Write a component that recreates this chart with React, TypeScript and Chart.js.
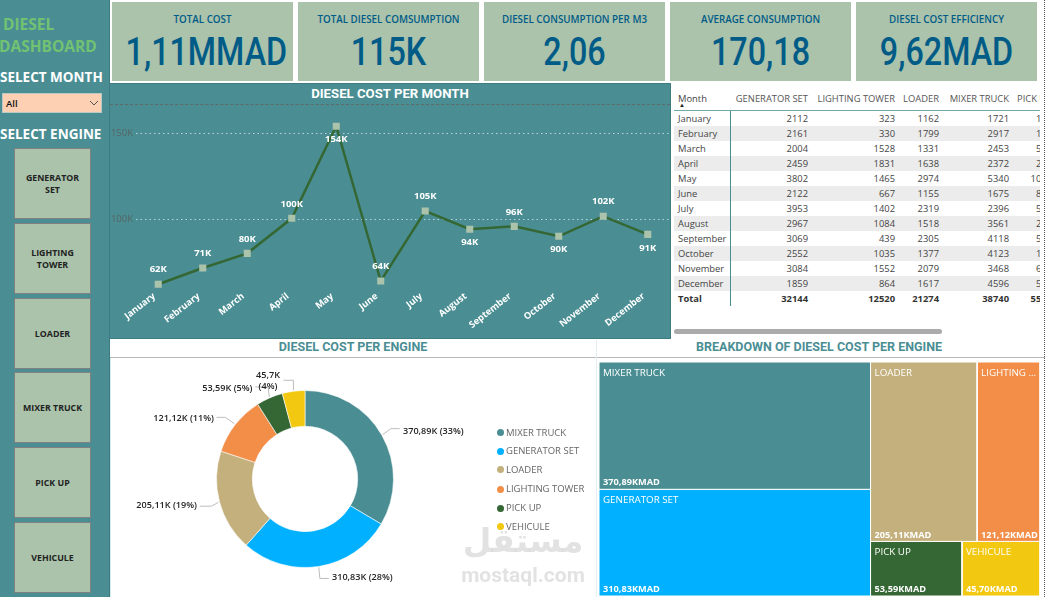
import React, { useEffect, useRef } from "react";
import { Chart, registerables } from "chart.js";

Chart.register(...registerables);

// ---------- data ----------
const months = ["January","February","March","April","May","June","July","August","September","October","November","December"];
const monthlyCost = [61800,71300,79900,100400,154300,63700,104700,94000,95700,89900,101600,91000];
const monthlyLabels = ["62K","71K","80K","100K","154K","64K","105K","94K","96K","90K","102K","91K"];
const labelsBelow = ["May","August","October","December"];

const engines = ["MIXER TRUCK","GENERATOR SET","LOADER","LIGHTING TOWER","PICK UP","VEHICULE"];
const engineCostK = [370.89,310.83,205.11,121.12,53.59,45.7];
const engineColors = ["#4A8E94","#01B0FF","#C3B07C","#F28E48","#346733","#F2C811"];

const kpiTitles = ["TOTAL COST","TOTAL DIESEL COMSUMPTION","DIESEL CONSUMPTION PER M3","AVERAGE CONSUMPTION","DIESEL COST EFFICIENCY"];
const kpiValues = ["1,11MMAD","115K","2,06","170,18","9,62MAD"];

const tableHeaders = ["GENERATOR SET","LIGHTING TOWER","LOADER","MIXER TRUCK","PICK UP"];
const generatorSet = [2112,2161,2004,2459,3802,2122,3953,2967,3069,2552,3084,1859];
const lightingTower = [323,330,1528,1831,1465,667,1402,1084,439,1035,1552,864];
const loader = [1162,1799,1331,1638,2974,1155,2319,1518,2305,1377,2079,1617];
const mixerTruck = [1721,2917,2453,2372,5340,1675,2396,3561,4118,4123,3468,4596];
const pickUp = [138,126,512,287,1043,845,506,274,509,113,611,555];
const tableTotals = [32144,12520,21274,38740,5519];
const buttons = [["GENERATOR","SET"],["LIGHTING","TOWER"],["LOADER"],["MIXER TRUCK"],["PICK UP"],["VEHICULE"]];

// ---------- styling constants ----------
const TEAL = "#4A8E94";
const SAGE = "#ABC2AB";
const BLUE = "#005C87";
const BODY = "'Open Sans', sans-serif";
const HEAD = "Roboto, sans-serif";

const kpiBoxes = [[112,181],[298,181],[484,181],[670,181],[856,181]];
const columnRight = [134,221,265,335,378];
const buttonTops = [148,223,298,372,447,522];
const legendY = [432.5,451,469.5,489,508,526.5];
const callouts = [
  { ex: 8, ey: -6, fx: 17, fy: -6, tx: 403, ty: 431, align: "left" },
  { ex: 1, ey: 11, fx: 10, fy: 11, tx: 332, ty: 577, align: "left" },
  { ex: -7, ey: 4, fx: -19, fy: 4, tx: 197, ty: 505.7, align: "right" },
  { ex: -9, ey: -6.5, fx: -18, fy: -6.5, tx: 214, ty: 418.7, align: "right" },
  { ex: -1, ey: -10, fx: -14, fy: -10, tx: 252.5, ty: 388.7, align: "right" },
  { ex: 0, ey: -10, fx: -10, fy: -10, tx: 268, ty: 375, align: "center" },
];

const commaNum = (v: number, d: number) => v.toFixed(d).replace(".", ",");
const totalCost = engineCostK.reduce((a, b) => a + b, 0);
const donutLabel = (i: number) => {
  const v = engineCostK[i];
  const txt = Number.isInteger(Math.round(v * 100) / 10) ? commaNum(v, 1) : commaNum(v, 2);
  return [`${txt}K`, `(${Math.round((v / totalCost) * 100)}%)`];
};

// treemap slice-and-dice derived from the values only
function treemapRects() {
  const [m, g, l, t, p, v] = engineCostK;
  const left = (m + g) / totalCost;
  const top = (l + t) / (l + t + p + v);
  return [
    { x0: 0, x1: left, y0: 0, y1: m / (m + g) },
    { x0: 0, x1: left, y0: m / (m + g), y1: 1 },
    { x0: left, x1: left + (1 - left) * (l / (l + t)), y0: 0, y1: top },
    { x0: left + (1 - left) * (l / (l + t)), x1: 1, y0: 0, y1: top },
    { x0: left, x1: left + (1 - left) * (p / (p + v)), y0: top, y1: 1 },
    { x0: left + (1 - left) * (p / (p + v)), x1: 1, y0: top, y1: 1 },
  ];
}
const treemapNames = ["MIXER TRUCK","GENERATOR SET","LOADER","LIGHTING ...","PICK UP","VEHICULE"];

const abs = (left: number, top: number, width?: number, height?: number): React.CSSProperties => ({
  position: "absolute", left, top, width, height,
});

export default function App() {
  const lineRef = useRef<HTMLCanvasElement>(null);
  const donutRef = useRef<HTMLCanvasElement>(null);
  const treeRef = useRef<HTMLCanvasElement>(null);

  useEffect(() => {
    const lineLabels = {
      id: "lineLabels",
      afterDatasetsDraw(chart: any) {
        const ctx = chart.ctx;
        const meta = chart.getDatasetMeta(0);
        ctx.save();
        ctx.font = `700 9.5px ${BODY}`;
        ctx.fillStyle = "#fff";
        ctx.textAlign = "center";
        ctx.textBaseline = "middle";
        meta.data.forEach((pt: any, i: number) => {
          const below = labelsBelow.includes(months[i]);
          ctx.fillText(monthlyLabels[i], pt.x, pt.y + (below ? 13.5 : -14.5));
        });
        ctx.restore();
      },
    };
    const line = new Chart(lineRef.current!, {
      type: "line",
      data: {
        labels: months,
        datasets: [{
          data: monthlyCost,
          borderColor: "#346733",
          borderWidth: 2.5,
          pointStyle: "rect",
          pointRadius: 5,
          pointBackgroundColor: SAGE,
          pointBorderWidth: 0,
          tension: 0,
        }],
      },
      options: {
        animation: false,
        responsive: false,
        layout: { autoPadding: false, padding: { top: 3, left: 0, right: 0, bottom: 0 } },
        plugins: { legend: { display: false }, tooltip: { enabled: false } },
        scales: {
          x: {
            offset: true,
            border: { display: false },
            grid: { display: false, drawTicks: false },
            afterFit: (s: any) => { s.height = 47.25; s.paddingLeft = 0; s.paddingRight = 0; },
            ticks: {
              autoSkip: false, maxRotation: 38, minRotation: 38, padding: 0, labelOffset: -4,
              color: "#fff", font: { family: "Open Sans", size: 9.3, weight: "700" },
            },
          },
          y: {
            min: 58000,
            max: 165000,
            border: { display: false, dash: [1.5, 3] },
            grid: { color: "rgba(225,235,235,0.75)", lineWidth: 1, drawTicks: false },
            afterBuildTicks: (s: any) => { s.ticks = [{ value: 100000 }, { value: 150000 }]; },
            afterFit: (s: any) => { s.width = 26; s.paddingTop = 0; s.paddingBottom = 0; },
            ticks: {
              padding: 3,
              color: "#566566",
              font: { family: "Open Sans", size: 9.5 },
              callback: (v: any) => `${Number(v) / 1000}K`,
            },
          },
        },
      },
      plugins: [lineLabels],
    } as any);

    const donutCallouts = {
      id: "donutCallouts",
      afterDraw(chart: any) {
        const ctx = chart.ctx;
        const meta = chart.getDatasetMeta(0);
        const rect = chart.canvas.getBoundingClientRect();
        ctx.save();
        meta.data.forEach((arc: any, i: number) => {
          const mid = (arc.startAngle + arc.endAngle) / 2;
          const ax = arc.x + Math.cos(mid) * (arc.outerRadius + 1);
          const ay = arc.y + Math.sin(mid) * (arc.outerRadius + 1);
          const c = callouts[i];
          ctx.strokeStyle = "#BDBDBD";
          ctx.lineWidth = 1;
          ctx.beginPath();
          ctx.moveTo(ax, ay);
          ctx.lineTo(ax + c.ex, ay + c.ey);
          ctx.lineTo(ax + c.fx, ay + c.fy);
          ctx.stroke();
          ctx.fillStyle = "#252525";
          ctx.font = `600 9.1px ${BODY}`;
          ctx.textBaseline = "middle";
          ctx.textAlign = c.align;
          const [a, b] = donutLabel(i);
          const tx = c.tx - rect.left;
          const ty = c.ty - rect.top;
          if (c.align === "center") {
            ctx.fillText(a, tx, ty);
            ctx.fillText(b, tx, ty + 11.7);
          } else {
            ctx.fillText(`${a} ${b}`, tx, ty);
          }
        });
        ctx.restore();
      },
    };
    const donut = new Chart(donutRef.current!, {
      type: "doughnut",
      data: {
        labels: engines,
        datasets: [{
          data: engineCostK,
          backgroundColor: engineColors,
          borderColor: "#fff",
          borderWidth: 0.6,
        }],
      },
      options: {
        animation: false,
        responsive: false,
        radius: 88.5,
        cutout: "59.5%",
        plugins: { legend: { display: false }, tooltip: { enabled: false } },
      },
      plugins: [donutCallouts],
    } as any);

    const rects = treemapRects();
    const treeLabels = {
      id: "treeLabels",
      afterDatasetsDraw(chart: any) {
        const { ctx, scales } = chart;
        ctx.save();
        ctx.fillStyle = "#fff";
        ctx.textAlign = "left";
        ctx.textBaseline = "middle";
        rects.forEach((r, i) => {
          const px = scales.x.getPixelForValue(r.x0) + 4;
          ctx.font = `400 9.8px ${BODY}`;
          ctx.fillText(treemapNames[i], px, scales.y.getPixelForValue(r.y0) + 11);
          ctx.font = `700 9.2px ${BODY}`;
          ctx.fillText(`${commaNum(engineCostK[i], 2)}KMAD`, px, scales.y.getPixelForValue(r.y1) - 6.5);
        });
        ctx.restore();
      },
    };
    const tree = new Chart(treeRef.current!, {
      type: "scatter",
      data: {
        datasets: rects.map((r, i) => ({
          label: engines[i],
          showLine: true,
          fill: "shape",
          tension: 0,
          clip: false,
          pointRadius: 0,
          backgroundColor: engineColors[i],
          borderColor: "#fff",
          borderWidth: 1,
          data: [
            { x: r.x0, y: r.y0 }, { x: r.x1, y: r.y0 }, { x: r.x1, y: r.y1 }, { x: r.x0, y: r.y1 }, { x: r.x0, y: r.y0 },
          ],
        })),
      },
      options: {
        animation: false,
        responsive: false,
        plugins: { legend: { display: false }, tooltip: { enabled: false } },
        scales: {
          x: { display: false, min: 0, max: 1 },
          y: { display: false, min: 0, max: 1, reverse: true },
        },
      },
      plugins: [treeLabels],
    } as any);

    return () => { line.destroy(); donut.destroy(); tree.destroy(); };
  }, []);

  const tableCols = [generatorSet, lightingTower, loader, mixerTruck, pickUp];

  return (
    <div style={{ position: "fixed", left: 0, top: 0, width: 1045, height: 597, overflow: "hidden", background: "#fff", fontFamily: BODY }}>
      {/* sidebar */}
      <div style={{ ...abs(0, 0, 109, 597), background: TEAL, borderRight: "1px solid #3F7C82", boxSizing: "content-box" }} />
      <div style={{ ...abs(3, 13), color: "#72C272", font: `700 15.5px ${BODY}` }}>DIESEL</div>
      <div style={{ ...abs(-1, 35), color: "#72C272", font: `700 15.5px ${BODY}` }}>DASHBOARD</div>
      <div style={{ ...abs(0, 68), color: "#fff", font: `700 13.5px ${BODY}`, whiteSpace: "nowrap" }}>SELECT MONTH</div>
      <div style={{ ...abs(2, 93, 100, 20), background: "#FDD0B3", border: "1px solid #B9C9C4", boxSizing: "border-box" }}>
        <span style={{ ...abs(3, 3), font: `600 9.5px ${BODY}`, color: "#111" }}>All</span>
        <svg style={abs(86, 6)} width="10" height="7"><polyline points="1,1 5,5 9,1" fill="none" stroke="#555" strokeWidth="1" /></svg>
      </div>
      <div style={{ ...abs(0, 125), color: "#fff", font: `700 13.5px ${BODY}`, whiteSpace: "nowrap" }}>SELECT ENGINE</div>
      {buttons.map((b, i) => (
        <div key={i} style={{ ...abs(14, buttonTops[i], 77, 71), background: SAGE, border: "1px solid #808080", boxSizing: "border-box", display: "flex", flexDirection: "column", alignItems: "center", justifyContent: "center", color: "#222", font: `700 8.8px/12px ${BODY}` }}>
          {b.map((t, j) => <span key={j}>{t}</span>)}
        </div>
      ))}

      {/* KPI cards */}
      {kpiTitles.map((t, i) => (
        <div key={t} style={{ ...abs(kpiBoxes[i][0], 2, kpiBoxes[i][1], 79), background: SAGE }}>
          <div style={{ position: "absolute", left: 0, right: 0, top: 11, textAlign: "center", color: BLUE, font: `600 9.8px/14px ${BODY}`, whiteSpace: "nowrap" }}>{t}</div>
          <div style={{ position: "absolute", left: 0, right: 0, top: 28, textAlign: "center", color: BLUE, font: `500 38px/44px ${HEAD}`, transform: "scaleX(0.85)", whiteSpace: "nowrap" }}>{kpiValues[i]}</div>
        </div>
      ))}

      {/* line panel */}
      <div style={{ ...abs(110, 84, 560, 254), background: TEAL, outline: "1px solid #3F7C82" }} />
      <div style={{ ...abs(110, 86, 560), textAlign: "center", color: "#fff", font: `700 13.2px/16px ${HEAD}` }}>DIESEL COST PER MONTH</div>
      <div style={{ ...abs(110, 104, 560), borderTop: "1px dashed #5E6A66" }} />
      <canvas ref={lineRef} width={560} height={233} style={{ ...abs(110, 105, 560, 233), display: "block" }} />

      {/* table */}
      <div style={{ ...abs(674, 85, 366, 222), overflow: "hidden", color: "#444", font: `400 9.4px/15px ${BODY}` }}>
        <div style={{ ...abs(4, 6), color: "#444" }}>Month</div>
        <div style={{ ...abs(5, 17), font: `400 6px/6px ${BODY}`, color: "#222" }}>▲</div>
        {tableHeaders.map((h, i) => (
          <div key={h} style={{ position: "absolute", top: 6, right: 366 - columnRight[i], whiteSpace: "nowrap", color: "#555", ...(i === 4 ? { right: "auto", left: 343 } : {}) }}>{h}</div>
        ))}
        <div style={{ ...abs(0, 25, 366, 1), background: "#6FA9AD" }} />
        {months.map((m, r) => (
          <div key={m} style={{ ...abs(0, 26 + r * 15, 366, 15), background: r % 2 ? "#ECECEC" : "transparent" }}>
            <span style={abs(4, 0)}>{m}</span>
            {tableCols.map((c, j) => (
              <span key={j} style={{ position: "absolute", top: 0, right: 366 - columnRight[j] }}>{c[r]}</span>
            ))}
          </div>
        ))}
        <div style={{ ...abs(0, 206, 366, 15), fontWeight: 700, color: "#333" }}>
          <span style={abs(4, 0)}>Total</span>
          {tableTotals.map((v, j) => (
            <span key={j} style={{ position: "absolute", top: 0, right: 366 - columnRight[j] }}>{v}</span>
          ))}
        </div>
        <div style={{ ...abs(56, 26, 1, 195), background: "#4A8E94" }} />
      </div>
      <div style={{ ...abs(674, 329, 268, 5), background: "#ABABAB", borderRadius: 3 }} />
      <div style={{ ...abs(1044, 0, 0, 597), borderLeft: "1px dotted #555" }} />

      {/* section titles */}
      <div style={{ ...abs(110, 339, 486), textAlign: "center", color: TEAL, font: `700 12.5px/16px ${HEAD}` }}>DIESEL COST PER ENGINE</div>
      <div style={{ ...abs(596, 339, 446), textAlign: "center", color: TEAL, font: `700 12.5px/16px ${HEAD}` }}>BREAKDOWN OF DIESEL COST PER ENGINE</div>
      <div style={{ ...abs(110, 357, 935, 1), background: "#B5B9B9" }} />
      <div style={{ ...abs(110, 358, 1, 239), background: "#D5E8EC" }} />
      <div style={{ ...abs(596, 340, 1, 257), background: "#E4EEF0" }} />

      {/* donut */}
      <canvas ref={donutRef} width={390} height={242} style={{ ...abs(110, 358, 390, 242), display: "block" }} />
      {engines.map((e, i) => (
        <div key={e} style={{ ...abs(497, legendY[i] - 7, 100, 14) }}>
          <span style={{ ...abs(0, 3.5, 7, 7), borderRadius: "50%", background: engineColors[i] }} />
          <span style={{ ...abs(9, 0), color: "#666", font: `400 9.5px/14px ${BODY}`, whiteSpace: "nowrap" }}>{e}</span>
        </div>
      ))}

      {/* treemap */}
      <canvas ref={treeRef} width={441} height={234} style={{ ...abs(599, 362, 441, 234), display: "block" }} />

      {/* watermark */}
      <div style={{ ...abs(455, 520, 136), textAlign: "center", color: "rgba(190,190,190,0.45)", font: "700 33px/42px 'DejaVu Sans'", pointerEvents: "none" }}>مستقل</div>
      <div style={{ ...abs(450, 562, 146), textAlign: "center", color: "rgba(190,190,190,0.45)", font: `700 21px/26px ${HEAD}`, pointerEvents: "none" }}>mostaql.com</div>
    </div>
  );
}
